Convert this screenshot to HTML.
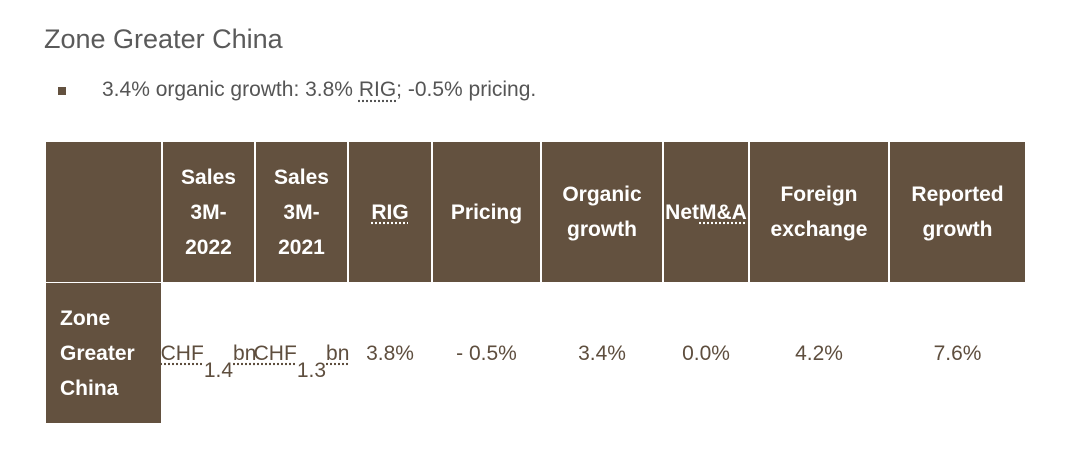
<!DOCTYPE html>
<html><head><meta charset="utf-8"><style>
body{margin:0;width:1080px;height:455px;background:#fff;font-family:"Liberation Sans",sans-serif;position:relative;overflow:hidden}
.t{position:absolute;left:44px;top:24px;font-size:27px;color:#5a5a5a}
.b{position:absolute;left:58px;top:87px;width:8px;height:8px;background:#63513f}
.bt{position:absolute;left:102px;top:78px;font-size:21px;color:#555}
.c{position:absolute;display:flex;align-items:center;justify-content:center;text-align:center;font-size:21px;line-height:35px;box-sizing:border-box}
.h{background:#63513f;color:#fff;font-weight:bold;top:142px;height:140px}
.d{top:283px;height:140px;color:#5e4e3e}
.u{text-decoration:underline dotted;text-underline-offset:4px}
</style></head><body>
<div class="t">Zone Greater China</div>
<div class="b"></div>
<div class="bt">3.4% organic growth: 3.8% <span class="u">RIG</span>; -0.5% pricing.</div>
<div id="tbl"></div>
<script>
const edges=[46,163,256,349,433,542,664,750,890,1025];
const heads=['','Sales<br>3M-<br>2022','Sales<br>3M-<br>2021','<span class="u">RIG</span>','Pricing','Organic<br>growth','Net<br><span class="u">M&amp;A</span>','Foreign<br>exchange','Reported<br>growth'];
const vals=['Zone<br>Greater<br>China','<span class="u">CHF</span><br>1.4<br><span class="u">bn</span>','<span class="u">CHF</span><br>1.3<br><span class="u">bn</span>','3.8%','- 0.5%','3.4%','0.0%','4.2%','7.6%'];
const tbl=document.getElementById('tbl');
for(let i=0;i<heads.length;i++){
 const h=document.createElement('div');h.className='c h';
 
 
 h.style.left=edges[i]+'px';h.style.width=(edges[i+1]-edges[i]-(i<heads.length-1?2:0))+'px';
 h.innerHTML=heads[i];tbl.appendChild(h);
 const d=document.createElement('div');d.className='c d';
 
 
 d.style.left=edges[i]+'px';d.style.width=(edges[i+1]-edges[i]-(i<heads.length-1?2:0))+'px';
 if(i===0){d.style.background='#63513f';d.style.color='#fff';d.style.fontWeight='bold';d.style.justifyContent='flex-start';d.style.textAlign='left';d.style.paddingLeft='14px';}
 d.innerHTML=vals[i];tbl.appendChild(d);
}
</script>
</body></html>
